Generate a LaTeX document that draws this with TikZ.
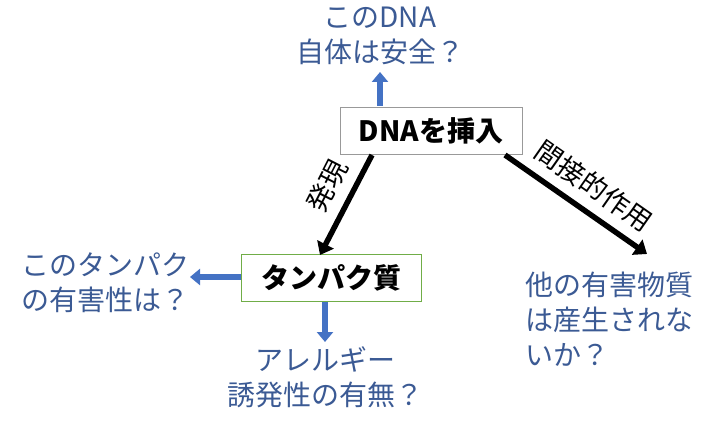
\documentclass[tikz,border=0pt]{standalone}
\usepackage{fontspec}
\setmainfont{Noto Sans CJK JP}
\usetikzlibrary{arrows.meta}
\definecolor{txtblue}{HTML}{3B5A94}
\definecolor{arrblue}{HTML}{4472C4}
\definecolor{boxgreen}{HTML}{70AD47}
\begin{document}
\begin{tikzpicture}[x=1pt,y=-1pt,
  lbl/.style={text=txtblue,font=\fontsize{28}{35}\selectfont,align=center,inner sep=0pt},
  box/.style={draw,line width=0.8pt,font=\fontsize{28}{30}\selectfont\bfseries,minimum height=47pt,inner sep=0pt},
  barr/.style={arrblue,line width=5.5pt,-{Triangle[length=10pt,width=16pt]}},
  karr/.style={black,line width=5.5pt,-{Triangle[length=12pt,width=18pt]}},
  rot/.style={font=\fontsize{27}{30}\selectfont,inner sep=0pt}]
\useasboundingbox (0,0) rectangle (721,433);
\node[box,draw=gray!80,minimum width=182pt] (dna) at (431,131) {DNAを挿入};
\node[box,draw=boxgreen,minimum width=180pt] (tp) at (331,278) {タンパク質};
\node[lbl] (q1) at (380,36) {このDNA\\自体は安全？};
\node[lbl,align=right,anchor=east] (q2) at (190,283) {このタンパク\\の有害性は？};
\node[lbl] (q3) at (325,377) {アレルギー\\誘発性の有無？};
\node[lbl,align=left,anchor=west] (q4) at (525,319) {他の有害物質\\は産生されな\\いか？};
\coordinate (a1) at (380,106);
\coordinate (a1e) at (380,72);
\draw[barr] (a1) -- (a1e);
\coordinate (a2) at (241,277);
\coordinate (a2e) at (190,277);
\draw[barr] (a2) -- (a2e);
\coordinate (a3) at (325,302);
\coordinate (a3e) at (325,342);
\draw[barr] (a3) -- (a3e);
\coordinate (k1) at (372,155);
\coordinate (k1e) at (320,255);
\draw[karr] (k1) -- (k1e);
\coordinate (k2) at (505,155);
\coordinate (k2e) at (647,254);
\draw[karr] (k2) -- (k2e);
\node[rot,rotate=63] (l1) at (327,186) {発現};
\node[rot,rotate=-35] (l2) at (594,186) {間接的作用};
\end{tikzpicture}
\end{document}
